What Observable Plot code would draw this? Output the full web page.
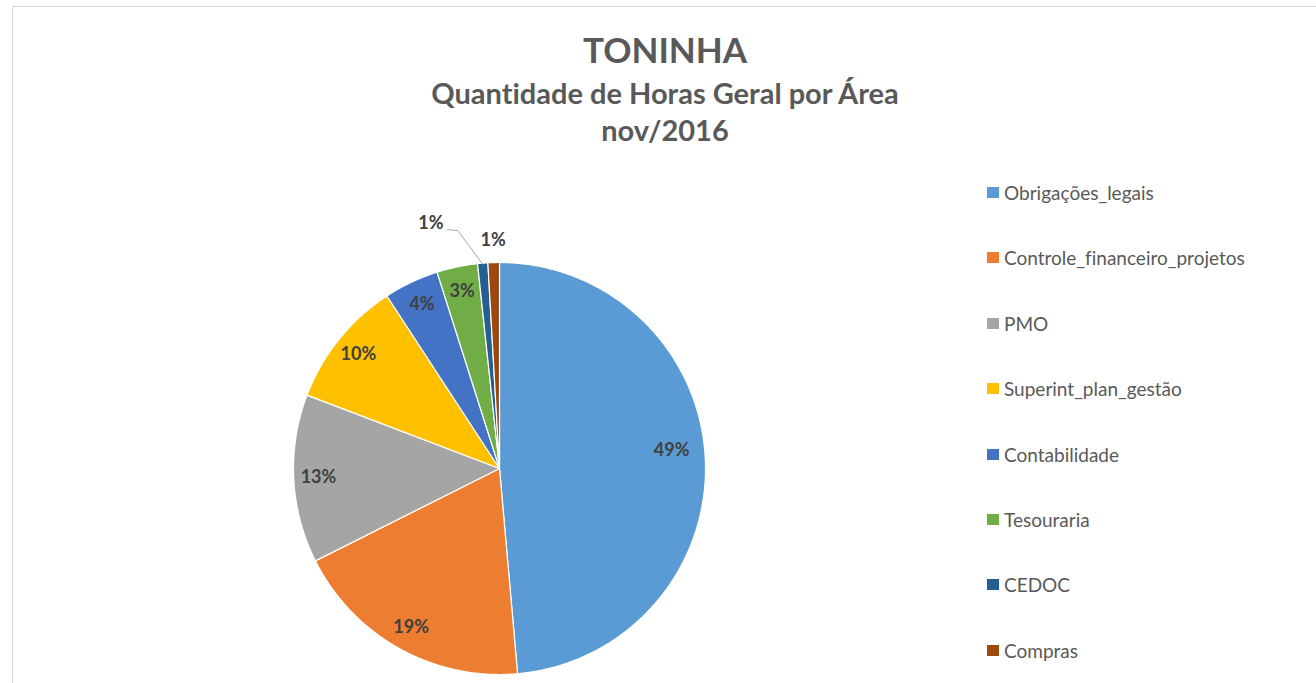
<!DOCTYPE html>
<html><head><meta charset="utf-8">
<script src="https://cdn.jsdelivr.net/npm/d3@7"></script>
<script src="https://cdn.jsdelivr.net/npm/@observablehq/plot@0.6"></script>
<style>
body{margin:0;background:#fff;font-family:Lato,"Open Sans",sans-serif;overflow:hidden;font-variant-ligatures:none;}
#frame{position:absolute;left:12px;top:6px;width:1340px;height:720px;border-left:1.5px solid #d9d9d9;border-top:1.5px solid #d9d9d9;box-sizing:border-box;}
.t{position:absolute;left:0;width:1330px;text-align:center;color:#595959;font-weight:700;white-space:nowrap;line-height:1.2;font-variant-ligatures:none;}
#chart{position:absolute;left:0;top:150px;}
.lg{position:absolute;left:987px;height:20px;display:flex;align-items:center;color:#595959;font-size:19px;white-space:nowrap;font-variant-ligatures:none;}
.lg span.sw{display:inline-block;width:12px;height:11px;margin-right:5px;}
</style></head>
<body>
<div id="frame"></div>
<div id="title" class="t" style="top:28px;font-size:35px;">TONINHA</div>
<div id="sub" class="t" style="top:76px;font-size:29px;">Quantidade de Horas Geral por Área</div>
<div id="sub2" class="t" style="top:113px;font-size:29px;">nov/2016</div>
<div id="chart"></div>
<div id="legend"></div>
<script>
const categories = ["Obrigações_legais","Controle_financeiro_projetos","PMO","Superint_plan_gestão","Contabilidade","Tesouraria","CEDOC","Compras"];
const hours = [48.6, 19.0, 13.2, 10.0, 4.3, 3.2, 0.8, 0.9];
const colors = ["#5B9BD5","#ED7D31","#A5A5A5","#FFC000","#4472C4","#70AD47","#255E91","#9E480E"];

const W = 1316, H = 533, CX = 499, CY = 318, R = 206;
const total = d3.sum(hours);
let acc = 0;
const slices = categories.map((name, i) => {
  const a0 = acc / total * 2 * Math.PI; acc += hours[i];
  const a1 = acc / total * 2 * Math.PI;
  return {name, value: hours[i], a0, a1, mid: (a0 + a1) / 2, pct: hours[i] / total};
});

// slice outlines (centre -> arc -> centre)
const pts = [];
for (const s of slices) {
  pts.push({name: s.name, x: 0, y: 0});
  const n = Math.max(2, Math.ceil((s.a1 - s.a0) / (Math.PI / 360)));
  for (let k = 0; k <= n; k++) {
    const a = s.a0 + (s.a1 - s.a0) * k / n;
    pts.push({name: s.name, x: Math.sin(a), y: Math.cos(a)});
  }
  pts.push({name: s.name, x: 0, y: 0});
}

// labels
const labels = [];
const leaders = [];
let lastOutside = null;
for (let i = slices.length - 1; i >= 0; i--) {
  const s = slices[i];
  const text = Math.round(s.pct * 100) + "%";
  if (s.pct >= 0.02) {
    const r = s.pct > 0.4 ? 0.84 : 0.88;
    const a = s.pct > 0.4 ? s.mid - 0.06 : s.mid;
    labels.push({x: r * Math.sin(a), y: r * Math.cos(a), text});
  } else {
    const r = 1.11;
    let x = r * Math.sin(s.mid), y = r * Math.cos(s.mid);
    if (lastOutside && Math.abs(lastOutside.x - x) * R < 40) {
      x -= 50 / R; y += 17 / R;
      const ex = Math.sin(s.mid), ey = Math.cos(s.mid);
      leaders.push({x: x + 17 / R, y: y - 6 / R});
      leaders.push({x: x + 27 / R, y: y - 7 / R});
      leaders.push({x: ex, y: ey - 1 / R});
    }
    lastOutside = {x, y};
    labels.push({x, y, text});
  }
}

const plot = Plot.plot({
  width: W, height: H, margin: 0,
  style: {fontFamily: "Lato, 'Open Sans', sans-serif", background: "transparent"},
  x: {type: "linear", domain: [-CX / R, (W - CX) / R], range: [0, W], axis: null},
  y: {type: "linear", domain: [-(H - CY) / R, CY / R], range: [H, 0], axis: null},
  color: {domain: categories, range: colors},
  marks: [
    Plot.line(pts, {x: "x", y: "y", z: "name", fill: "name", stroke: "white", strokeWidth: 1.2, curve: "linear"}),
    Plot.line(leaders, {x: "x", y: "y", stroke: "#a6a6a6", strokeWidth: 1}),
    Plot.text(labels, {x: "x", y: "y", text: "text", fontSize: 18, fontWeight: "bold", fill: "#404040"})
  ]
});
document.getElementById("chart").appendChild(plot);

// legend
const lg = document.getElementById("legend");
categories.forEach((c, i) => {
  const d = document.createElement("div");
  d.className = "lg";
  d.style.top = (193 + i * 65.4 - 10.5) + "px";
  d.innerHTML = `<span class="sw" style="background:${colors[i]}"></span>${c}`;
  lg.appendChild(d);
});
</script>
</body></html>
